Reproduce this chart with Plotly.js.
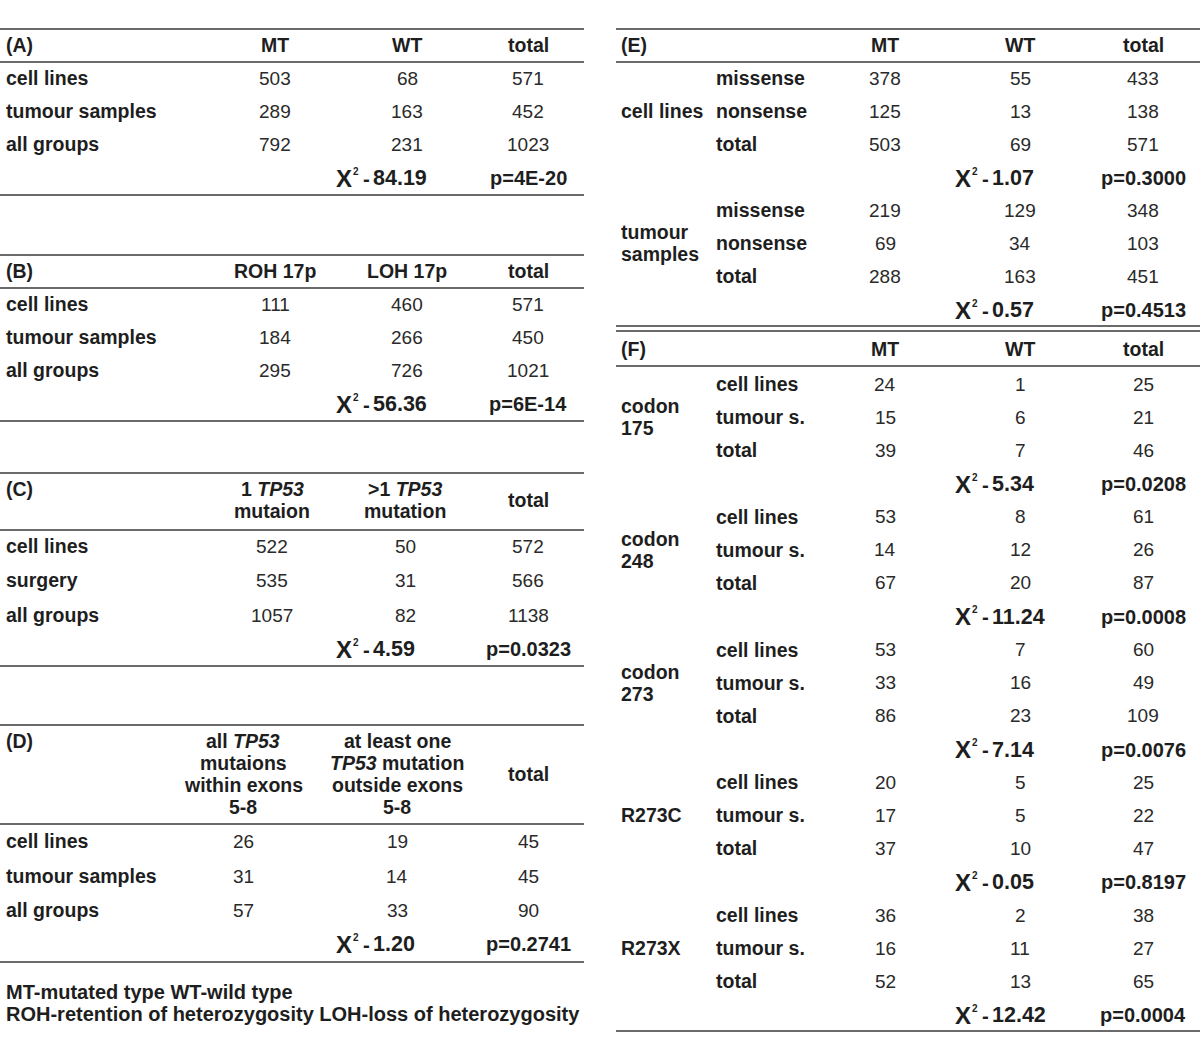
<!DOCTYPE html>
<html><head><meta charset="utf-8">
<script src="https://cdn.plot.ly/plotly-3.0.1.min.js"></script>
<style>html,body{margin:0;padding:0;background:#fff}</style>
</head><body><div id="chart" style="width:1200px;height:1063px"></div>
<script>
// ---------------- data ----------------
const colsA = ['MT', 'WT', 'total'];
const rowsA = ['cell lines', 'tumour samples', 'all groups'];
const mtA = [503, 289, 792];
const wtA = [68, 163, 231];
const totA = [571, 452, 1023];
const chiA = '84.19';
const pA = 'p=4E-20';

const colsB = ['ROH 17p', 'LOH 17p', 'total'];
const rowsB = ['cell lines', 'tumour samples', 'all groups'];
const rohB = [111, 184, 295];
const lohB = [460, 266, 726];
const totB = [571, 450, 1021];
const chiB = '56.36';
const pB = 'p=6E-14';

const colsC = ['1 <i>TP53</i><br>mutaion', '>1 <i>TP53</i><br>mutation', 'total'];
const rowsC = ['cell lines', 'surgery', 'all groups'];
const oneC = [522, 535, 1057];
const moreC = [50, 31, 82];
const totC = [572, 566, 1138];
const chiC = '4.59';
const pC = 'p=0.0323';

const colsD = ['all <i>TP53</i><br>mutaions<br>within exons<br>5-8', 'at least one<br><i>TP53</i> mutation<br>outside exons<br>5-8', 'total'];
const rowsD = ['cell lines', 'tumour samples', 'all groups'];
const withinD = [26, 31, 57];
const outsideD = [19, 14, 33];
const totD = [45, 45, 90];
const chiD = '1.20';
const pD = 'p=0.2741';

const colsE = ['MT', 'WT', 'total'];
const groupsE = ['cell lines', 'tumour<br>samples'];
const subE = ['missense', 'nonsense', 'total'];
const mtE = [[378, 125, 503], [219, 69, 288]];
const wtE = [[55, 13, 69], [129, 34, 163]];
const totE = [[433, 138, 571], [348, 103, 451]];
const chiE = ['1.07', '0.57'];
const pE = ['p=0.3000', 'p=0.4513'];

const colsF = ['MT', 'WT', 'total'];
const groupsF = ['codon<br>175', 'codon<br>248', 'codon<br>273', 'R273C', 'R273X'];
const subF = ['cell lines', 'tumour s.', 'total'];
const mtF = [[24, 15, 39], [53, 14, 67], [53, 33, 86], [20, 17, 37], [36, 16, 52]];
const wtF = [[1, 6, 7], [8, 12, 20], [7, 16, 23], [5, 5, 10], [2, 11, 13]];
const totF = [[25, 21, 46], [61, 26, 87], [60, 49, 109], [25, 22, 47], [38, 27, 65]];
const chiF = ['5.34', '11.24', '7.14', '0.05', '12.42'];
const pF = ['p=0.0208', 'p=0.0008', 'p=0.0076', 'p=0.8197', 'p=0.0004'];

const footnotes = ['MT-mutated type WT-wild type', 'ROH-retention of heterozygosity LOH-loss of heterozygosity'];

// ---------------- drawing helpers ----------------
const FONT = 'Liberation Sans, Arial, sans-serif';
const TXT = '#1e1e1e';
const LINE = '#6a6a6a';
const BSIZE = 19.5;
const ann = [];
const shp = [];

function put(x, y, text, anchor, size, color) {
  ann.push({x: x, y: y, xref: 'x', yref: 'y', text: text, showarrow: false,
    xanchor: anchor || 'left', yanchor: 'middle', borderpad: 0, borderwidth: 0,
    font: {family: FONT, size: size, color: color || TXT}});
}
function bold(x, y, text, anchor, size) {
  put(x, y, '<b>' + text + '</b>', anchor, size || BSIZE);
}
function boldLines(x, yCenter, text, anchor, step) {
  const parts = text.split('<br>');
  const s = step || 22;
  const y0 = yCenter - (parts.length - 1) * s / 2;
  parts.forEach((p, i) => bold(x, y0 + i * s, p, anchor));
}
function num(x, y, v) {
  put(x, y, String(v), 'center', 19, '#2a2a2a');
}
function chi(x, y, v) {
  bold(x, y, 'X', 'left', 24);
  bold(x + 17, y - 7, '2', 'left', 10);
  bold(x + 27, y, '-', 'left', BSIZE + 1);
  bold(x + 37, y, v, 'left', 21.5);
}
function hline(x0, x1, y) {
  shp.push({type: 'line', xref: 'x', yref: 'y', x0: x0, x1: x1, y0: y, y1: y,
    line: {color: LINE, width: 2}});
}

// ---------------- left-hand tables ----------------
function simpleTable(tag, cols, rows, c1, c2, c3, chiV, pV, g) {
  const L = 0, R = 584, lx = 6;
  hline(L, R, g.top);
  hline(L, R, g.hline);
  hline(L, R, g.bottom);
  bold(lx, g.tagY, tag, 'left');
  cols.forEach((c, i) => boldLines(g.cx[i], g.hdr, c, 'center'));
  rows.forEach((r, i) => {
    const y = g.rows[i];
    bold(lx, y, r, 'left');
    num(g.cx[0], y, c1[i]);
    num(g.cx[1], y, c2[i]);
    num(g.cx[2], y, c3[i]);
  });
  chi(336, g.chi, chiV);
  bold(g.cx[2], g.chi, pV, 'center', BSIZE + 0.5);
}

simpleTable('(A)', colsA, rowsA, mtA, wtA, totA, chiA, pA,
  {top: 29, tagY: 45, hdr: 45, hline: 62, rows: [78, 111, 144], chi: 178, bottom: 195, cx: [275, 407, 528]});
simpleTable('(B)', colsB, rowsB, rohB, lohB, totB, chiB, pB,
  {top: 255, tagY: 271, hdr: 271, hline: 288, rows: [304, 337, 370], chi: 404, bottom: 421, cx: [275, 407, 528]});
simpleTable('(C)', colsC, rowsC, oneC, moreC, totC, chiC, pC,
  {top: 473, tagY: 489, hdr: 500, hline: 530, rows: [546, 580, 615], chi: 649, bottom: 666, cx: [272, 405, 528]});
simpleTable('(D)', colsD, rowsD, withinD, outsideD, totD, chiD, pD,
  {top: 725, tagY: 741, hdr: 774, hline: 824, rows: [841, 876, 910], chi: 944, bottom: 962, cx: [243, 397, 528]});

footnotes.forEach((f, i) => bold(6, 992 + i * 22, f, 'left', 20));

// ---------------- right-hand tables ----------------
const RL = 616, RR = 1200, gx = 621, sx = 716, rcx = [885, 1020, 1143];

function groupedTable(tag, cols, groups, subs, c1, c2, c3, chis, ps, g) {
  bold(gx, g.hdr, tag, 'left');
  cols.forEach((c, i) => bold(rcx[i], g.hdr, c, 'center'));
  hline(RL, RR, g.hline);
  groups.forEach((grp, k) => {
    const y0 = g.start + k * g.step;
    boldLines(gx, y0 + 33, grp, 'left');
    subs.forEach((s, i) => {
      const y = y0 + i * 33;
      bold(sx, y, s, 'left');
      num(rcx[0], y, c1[k][i]);
      num(rcx[1], y, c2[k][i]);
      num(rcx[2], y, c3[k][i]);
    });
    chi(955, y0 + 100, chis[k]);
    bold(rcx[2], y0 + 100, ps[k], 'center', BSIZE + 0.5);
  });
}

hline(RL, RR, 29);
groupedTable('(E)', colsE, groupsE, subE, mtE, wtE, totE, chiE, pE,
  {hdr: 45, hline: 62, start: 78, step: 132});
hline(RL, RR, 326);
hline(RL, RR, 331);
groupedTable('(F)', colsF, groupsF, subF, mtF, wtF, totF, chiF, pF,
  {hdr: 349, hline: 366, start: 384, step: 132.75});
hline(RL, RR, 1031);

const layout = {
  width: 1200, height: 1063,
  margin: {l: 0, r: 0, t: 0, b: 0, pad: 0},
  paper_bgcolor: '#ffffff', plot_bgcolor: '#ffffff',
  showlegend: false,
  xaxis: {range: [0, 1200], visible: false, fixedrange: true},
  yaxis: {range: [1063, 0], visible: false, fixedrange: true},
  annotations: ann,
  shapes: shp
};
Plotly.newPlot('chart', [], layout, {staticPlot: true, displayModeBar: false});
</script>
</body></html>
